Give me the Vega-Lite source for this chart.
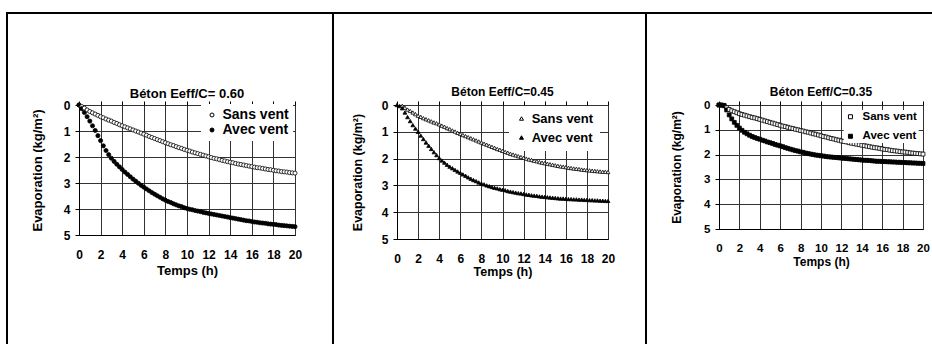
{
  "$schema": "https://vega.github.io/schema/vega-lite/v6.json",
  "background": "white",
  "padding": {"left": 5, "top": 11, "right": 0, "bottom": 0},
  "spacing": -4,
  "resolve": {"scale": {"fill": "independent", "x": "independent", "y": "independent"}, "legend": {"fill": "independent"}},
  "config": {
    "font": "Liberation Sans",
    "view": {"stroke": "#555", "strokeWidth": 1},
    "axis": {"labelFont": "Liberation Sans", "labelFontWeight": "bold", "labelColor": "black", "titleFont": "Liberation Sans", "titleFontWeight": "bold", "titleColor": "black", "tickColor": "black", "domainColor": "black", "gridColor": "#333", "gridOpacity": 1, "labelFlush": false, "labelOverlap": false},
    "title": {"font": "Liberation Sans", "fontWeight": "bold", "color": "black", "frame": "group", "anchor": "middle"},
    "legend": {"labelFont": "Liberation Sans", "labelFontWeight": "bold", "labelColor": "black", "fillColor": "white", "orient": "none", "symbolStrokeColor": "black", "symbolStrokeWidth": 1}
  },
  "datasets": {
    "d": [
      {"t":0,"s1":0,"a1":0,"s2":null,"a2":0,"s3":0,"a3":0},
      {"t":0.25,"s1":0.06,"a1":0.14,"s2":null,"a2":0.04,"s3":0.01,"a3":0},
      {"t":0.5,"s1":0.12,"a1":0.29,"s2":0.03,"a2":0.12,"s3":0.03,"a3":0.02},
      {"t":0.75,"s1":0.19,"a1":0.45,"s2":0.1,"a2":0.28,"s3":0.11,"a3":0.2},
      {"t":1,"s1":0.25,"a1":0.62,"s2":0.17,"a2":0.45,"s3":0.18,"a3":0.4},
      {"t":1.25,"s1":0.3,"a1":0.8,"s2":0.22,"a2":0.6,"s3":0.23,"a3":0.56},
      {"t":1.5,"s1":0.35,"a1":0.98,"s2":0.28,"a2":0.75,"s3":0.27,"a3":0.7},
      {"t":1.75,"s1":0.4,"a1":1.18,"s2":0.34,"a2":0.88,"s3":0.31,"a3":0.82},
      {"t":2,"s1":0.45,"a1":1.37,"s2":0.4,"a2":1.0,"s3":0.35,"a3":0.93},
      {"t":2.25,"s1":0.49,"a1":1.57,"s2":0.44,"a2":1.14,"s3":0.38,"a3":1.02},
      {"t":2.5,"s1":0.54,"a1":1.75,"s2":0.49,"a2":1.27,"s3":0.41,"a3":1.1},
      {"t":2.75,"s1":0.58,"a1":1.91,"s2":0.53,"a2":1.4,"s3":0.44,"a3":1.16},
      {"t":3,"s1":0.62,"a1":2.05,"s2":0.57,"a2":1.52,"s3":0.47,"a3":1.22},
      {"t":3.25,"s1":0.67,"a1":2.17,"s2":0.61,"a2":1.64,"s3":0.5,"a3":1.27},
      {"t":3.5,"s1":0.71,"a1":2.28,"s2":0.65,"a2":1.76,"s3":0.52,"a3":1.31},
      {"t":3.75,"s1":0.76,"a1":2.38,"s2":0.68,"a2":1.87,"s3":0.55,"a3":1.35},
      {"t":4,"s1":0.8,"a1":2.48,"s2":0.72,"a2":1.98,"s3":0.58,"a3":1.38},
      {"t":4.25,"s1":0.84,"a1":2.58,"s2":0.77,"a2":2.07,"s3":0.61,"a3":1.42},
      {"t":4.5,"s1":0.88,"a1":2.67,"s2":0.81,"a2":2.15,"s3":0.64,"a3":1.45},
      {"t":4.75,"s1":0.92,"a1":2.76,"s2":0.86,"a2":2.23,"s3":0.67,"a3":1.49},
      {"t":5,"s1":0.96,"a1":2.85,"s2":0.9,"a2":2.3,"s3":0.7,"a3":1.52},
      {"t":5.25,"s1":1.0,"a1":2.93,"s2":0.95,"a2":2.36,"s3":0.73,"a3":1.55},
      {"t":5.5,"s1":1.04,"a1":3.01,"s2":0.99,"a2":2.42,"s3":0.76,"a3":1.59},
      {"t":5.75,"s1":1.08,"a1":3.09,"s2":1.04,"a2":2.48,"s3":0.79,"a3":1.62},
      {"t":6,"s1":1.12,"a1":3.16,"s2":1.08,"a2":2.53,"s3":0.82,"a3":1.65},
      {"t":6.25,"s1":1.16,"a1":3.23,"s2":1.12,"a2":2.59,"s3":0.85,"a3":1.68},
      {"t":6.5,"s1":1.21,"a1":3.3,"s2":1.16,"a2":2.64,"s3":0.87,"a3":1.72},
      {"t":6.75,"s1":1.25,"a1":3.37,"s2":1.2,"a2":2.7,"s3":0.9,"a3":1.75},
      {"t":7,"s1":1.29,"a1":3.43,"s2":1.24,"a2":2.75,"s3":0.93,"a3":1.78},
      {"t":7.25,"s1":1.33,"a1":3.49,"s2":1.28,"a2":2.8,"s3":0.95,"a3":1.81},
      {"t":7.5,"s1":1.37,"a1":3.55,"s2":1.32,"a2":2.84,"s3":0.98,"a3":1.84},
      {"t":7.75,"s1":1.41,"a1":3.61,"s2":1.36,"a2":2.89,"s3":1.0,"a3":1.86},
      {"t":8,"s1":1.45,"a1":3.66,"s2":1.4,"a2":2.93,"s3":1.03,"a3":1.89},
      {"t":8.25,"s1":1.49,"a1":3.71,"s2":1.44,"a2":2.96,"s3":1.05,"a3":1.91},
      {"t":8.5,"s1":1.53,"a1":3.75,"s2":1.48,"a2":3.0,"s3":1.08,"a3":1.94},
      {"t":8.75,"s1":1.56,"a1":3.8,"s2":1.52,"a2":3.03,"s3":1.1,"a3":1.96},
      {"t":9,"s1":1.6,"a1":3.84,"s2":1.56,"a2":3.06,"s3":1.13,"a3":1.98},
      {"t":9.25,"s1":1.64,"a1":3.88,"s2":1.6,"a2":3.09,"s3":1.16,"a3":2.0},
      {"t":9.5,"s1":1.67,"a1":3.91,"s2":1.64,"a2":3.11,"s3":1.18,"a3":2.02},
      {"t":9.75,"s1":1.71,"a1":3.95,"s2":1.67,"a2":3.14,"s3":1.21,"a3":2.03},
      {"t":10,"s1":1.74,"a1":3.98,"s2":1.71,"a2":3.16,"s3":1.24,"a3":2.05},
      {"t":10.25,"s1":1.77,"a1":4.01,"s2":1.75,"a2":3.18,"s3":1.27,"a3":2.06},
      {"t":10.5,"s1":1.81,"a1":4.03,"s2":1.78,"a2":3.21,"s3":1.29,"a3":2.08},
      {"t":10.75,"s1":1.84,"a1":4.06,"s2":1.82,"a2":3.23,"s3":1.32,"a3":2.09},
      {"t":11,"s1":1.87,"a1":4.08,"s2":1.85,"a2":3.25,"s3":1.35,"a3":2.1},
      {"t":11.25,"s1":1.9,"a1":4.1,"s2":1.88,"a2":3.27,"s3":1.37,"a3":2.11},
      {"t":11.5,"s1":1.93,"a1":4.13,"s2":1.91,"a2":3.29,"s3":1.4,"a3":2.12},
      {"t":11.75,"s1":1.96,"a1":4.15,"s2":1.94,"a2":3.3,"s3":1.42,"a3":2.13},
      {"t":12,"s1":1.99,"a1":4.17,"s2":1.97,"a2":3.32,"s3":1.45,"a3":2.14},
      {"t":12.25,"s1":2.02,"a1":4.19,"s2":2.0,"a2":3.34,"s3":1.47,"a3":2.15},
      {"t":12.5,"s1":2.05,"a1":4.21,"s2":2.03,"a2":3.35,"s3":1.49,"a3":2.16},
      {"t":12.75,"s1":2.07,"a1":4.23,"s2":2.05,"a2":3.37,"s3":1.52,"a3":2.17},
      {"t":13,"s1":2.1,"a1":4.25,"s2":2.08,"a2":3.38,"s3":1.54,"a3":2.18},
      {"t":13.25,"s1":2.13,"a1":4.27,"s2":2.1,"a2":3.39,"s3":1.56,"a3":2.19},
      {"t":13.5,"s1":2.15,"a1":4.29,"s2":2.13,"a2":3.41,"s3":1.58,"a3":2.2},
      {"t":13.75,"s1":2.18,"a1":4.31,"s2":2.15,"a2":3.42,"s3":1.6,"a3":2.21},
      {"t":14,"s1":2.2,"a1":4.33,"s2":2.17,"a2":3.43,"s3":1.62,"a3":2.22},
      {"t":14.25,"s1":2.22,"a1":4.35,"s2":2.19,"a2":3.44,"s3":1.64,"a3":2.23},
      {"t":14.5,"s1":2.25,"a1":4.37,"s2":2.21,"a2":3.45,"s3":1.66,"a3":2.23},
      {"t":14.75,"s1":2.27,"a1":4.39,"s2":2.23,"a2":3.46,"s3":1.68,"a3":2.24},
      {"t":15,"s1":2.29,"a1":4.41,"s2":2.25,"a2":3.47,"s3":1.7,"a3":2.25},
      {"t":15.25,"s1":2.31,"a1":4.43,"s2":2.27,"a2":3.48,"s3":1.72,"a3":2.26},
      {"t":15.5,"s1":2.33,"a1":4.45,"s2":2.29,"a2":3.49,"s3":1.73,"a3":2.27},
      {"t":15.75,"s1":2.35,"a1":4.46,"s2":2.3,"a2":3.49,"s3":1.75,"a3":2.27},
      {"t":16,"s1":2.37,"a1":4.48,"s2":2.32,"a2":3.5,"s3":1.77,"a3":2.28},
      {"t":16.25,"s1":2.39,"a1":4.5,"s2":2.34,"a2":3.51,"s3":1.79,"a3":2.28},
      {"t":16.5,"s1":2.41,"a1":4.51,"s2":2.35,"a2":3.51,"s3":1.8,"a3":2.29},
      {"t":16.75,"s1":2.42,"a1":4.53,"s2":2.37,"a2":3.52,"s3":1.82,"a3":2.29},
      {"t":17,"s1":2.44,"a1":4.54,"s2":2.38,"a2":3.52,"s3":1.84,"a3":2.3},
      {"t":17.25,"s1":2.46,"a1":4.55,"s2":2.39,"a2":3.53,"s3":1.85,"a3":2.3},
      {"t":17.5,"s1":2.48,"a1":4.57,"s2":2.41,"a2":3.53,"s3":1.86,"a3":2.31},
      {"t":17.75,"s1":2.49,"a1":4.58,"s2":2.42,"a2":3.54,"s3":1.88,"a3":2.31},
      {"t":18,"s1":2.51,"a1":4.59,"s2":2.43,"a2":3.54,"s3":1.89,"a3":2.32},
      {"t":18.25,"s1":2.53,"a1":4.6,"s2":2.44,"a2":3.55,"s3":1.9,"a3":2.32},
      {"t":18.5,"s1":2.54,"a1":4.62,"s2":2.45,"a2":3.55,"s3":1.91,"a3":2.33},
      {"t":18.75,"s1":2.56,"a1":4.63,"s2":2.46,"a2":3.56,"s3":1.93,"a3":2.33},
      {"t":19,"s1":2.57,"a1":4.64,"s2":2.47,"a2":3.56,"s3":1.94,"a3":2.34},
      {"t":19.25,"s1":2.58,"a1":4.65,"s2":2.48,"a2":3.57,"s3":1.95,"a3":2.34},
      {"t":19.5,"s1":2.6,"a1":4.66,"s2":2.49,"a2":3.57,"s3":1.96,"a3":2.35},
      {"t":19.75,"s1":2.61,"a1":4.67,"s2":2.49,"a2":3.58,"s3":1.97,"a3":2.35},
      {"t":20,"s1":2.62,"a1":4.68,"s2":2.5,"a2":3.58,"s3":1.98,"a3":2.36}
    ]
  },
  "hconcat": [
    {
      "width": 216,
      "height": 130,
      "title": {"text": "Béton Eeff/C= 0.60", "fontSize": 13, "offset": -89},
      "layer": [
        {
          "data": {"values": [{}]},
          "mark": {"type": "rect", "filled": false, "stroke": "black", "strokeWidth": 2},
          "encoding": {
            "x": {"datum": -6.6667, "type": "quantitative", "scale": {"domain": [0, 20], "nice": false, "zero": false}, "axis": {"orient": "top", "values": [0,2,4,6,8,10,12,14,16,18,20], "labels": false, "ticks": true, "tickSize": 4, "domain": false, "grid": false, "title": null}},
            "x2": {"datum": 23.517},
            "y": {"datum": -3.538, "type": "quantitative", "scale": {"domain": [0, 5], "reverse": true, "nice": false, "zero": false}, "axis": {"orient": "left", "values": [0,1,2,3,4,5], "grid": true, "tickSize": 4, "labelPadding": 5, "labelFontSize": 12, "title": "Evaporation (kg/m²)", "titleFontSize": 13, "titlePadding": 19, "domain": true}},
            "y2": {"datum": 9.8}
          }
        },
        {
          "data": {"name": "d"},
          "transform": [{"fold": ["s1", "a1"], "as": ["serie", "v"]}, {"filter": "isValid(datum.v)"}],
          "mark": {"type": "point", "filled": true, "shape": "circle", "stroke": "black", "strokeWidth": 0.8, "opacity": 1, "size": 17},
          "encoding": {
            "x": {"field": "t", "type": "quantitative", "axis": {"orient": "bottom", "values": [0,2,4,6,8,10,12,14,16,18,20], "ticks": false, "labelPadding": 14, "labelFontSize": 12, "grid": true, "domain": true, "title": "Temps (h)", "titleFontSize": 13, "titlePadding": 4}},
            "y": {"field": "v", "type": "quantitative", "axis": {"orient": "left", "values": [0,1,2,3,4,5], "grid": true, "tickSize": 4, "labelPadding": 5, "labelFontSize": 12, "title": "Evaporation (kg/m²)", "titleFontSize": 13, "titlePadding": 19, "domain": true}},
            "fill": {"field": "serie", "type": "nominal", "scale": {"domain": ["s1", "a1"], "range": ["white", "black"]}, "legend": {"title": null, "labelExpr": "datum.value == 's1' ? 'Sans vent' : 'Avec vent'", "labelFontSize": 14, "symbolType": "circle", "symbolSize": 16, "padding": 4, "rowPadding": 1, "labelOffset": 3.5, "legendX": 122, "legendY": -1}}
          }
        }
      ]
    },
    {
      "width": 211,
      "height": 134,
      "title": {"text": "Béton Eeff/C=0.45", "fontSize": 12, "offset": -87},
      "layer": [
        {
          "data": {"values": [{}]},
          "mark": {"type": "rect", "filled": false, "stroke": "black", "strokeWidth": 2},
          "encoding": {
            "x": {"datum": -6.0654, "type": "quantitative", "scale": {"domain": [0, 20], "nice": false, "zero": false}, "axis": {"orient": "top", "values": [0,2,4,6,8,10,12,14,16,18,20], "labels": false, "ticks": true, "tickSize": 4, "domain": false, "grid": false, "title": null}},
            "x2": {"datum": 23.601},
            "y": {"datum": -3.4328, "type": "quantitative", "scale": {"domain": [0, 5], "reverse": true, "nice": false, "zero": false}, "axis": {"orient": "left", "values": [0,1,2,3,4,5], "grid": true, "tickSize": 4, "labelPadding": 5, "labelFontSize": 12, "title": "Evaporation (kg/m²)", "titleFontSize": 12.5, "titlePadding": 17, "domain": true}},
            "y2": {"datum": 9.51}
          }
        },
        {
          "data": {"name": "d"},
          "transform": [{"fold": ["s2", "a2"], "as": ["serie", "v"]}, {"filter": "isValid(datum.v)"}],
          "mark": {"type": "point", "filled": true, "shape": "triangle-up", "stroke": "black", "strokeWidth": 0.8, "opacity": 1, "size": 15},
          "encoding": {
            "x": {"field": "t", "type": "quantitative", "axis": {"orient": "bottom", "values": [0,2,4,6,8,10,12,14,16,18,20], "ticks": false, "labelPadding": 14, "labelFontSize": 12, "grid": true, "domain": true, "title": "Temps (h)", "titleFontSize": 12.5, "titlePadding": 1}},
            "y": {"field": "v", "type": "quantitative", "axis": {"orient": "left", "values": [0,1,2,3,4,5], "grid": true, "tickSize": 4, "labelPadding": 5, "labelFontSize": 12, "title": "Evaporation (kg/m²)", "titleFontSize": 12.5, "titlePadding": 17, "domain": true}},
            "fill": {"field": "serie", "type": "nominal", "scale": {"domain": ["s2", "a2"], "range": ["white", "black"]}, "legend": {"title": null, "labelExpr": "datum.value == 's2' ? 'Sans vent' : 'Avec vent'", "labelFontSize": 13, "symbolType": "triangle-up", "symbolSize": 16, "padding": 6, "rowPadding": 5, "labelOffset": 3.7, "legendX": 112, "legendY": 1}}
          }
        }
      ]
    },
    {
      "width": 204,
      "height": 124,
      "title": {"text": "Béton Eeff/C=0.35", "fontSize": 12, "offset": -87},
      "layer": [
        {
          "data": {"values": [{}]},
          "mark": {"type": "rect", "filled": false, "stroke": "black", "strokeWidth": 2},
          "encoding": {
            "x": {"datum": -7.156, "type": "quantitative", "scale": {"domain": [0, 20], "nice": false, "zero": false}, "axis": {"orient": "top", "values": [0,2,4,6,8,10,12,14,16,18,20], "labels": false, "ticks": true, "tickSize": 4, "domain": false, "grid": false, "title": null}},
            "x2": {"datum": 21.08},
            "y": {"datum": -3.7097, "type": "quantitative", "scale": {"domain": [0, 5], "reverse": true, "nice": false, "zero": false}, "axis": {"orient": "left", "values": [0,1,2,3,4,5], "grid": true, "tickSize": 4, "labelPadding": 5, "labelFontSize": 11.5, "title": "Evaporation (kg/m²)", "titleFontSize": 12, "titlePadding": 20, "domain": true}},
            "y2": {"datum": 10.28}
          }
        },
        {
          "data": {"name": "d"},
          "transform": [{"fold": ["s3", "a3"], "as": ["serie", "v"]}, {"filter": "isValid(datum.v)"}],
          "mark": {"type": "point", "filled": true, "shape": "square", "stroke": "black", "strokeWidth": 0.8, "opacity": 1, "size": 15},
          "encoding": {
            "x": {"field": "t", "type": "quantitative", "axis": {"orient": "bottom", "values": [0,2,4,6,8,10,12,14,16,18,20], "ticks": false, "labelPadding": 13, "labelFontSize": 11.5, "grid": true, "domain": true, "title": "Temps (h)", "titleFontSize": 12, "titlePadding": 3}},
            "y": {"field": "v", "type": "quantitative", "axis": {"orient": "left", "values": [0,1,2,3,4,5], "grid": true, "tickSize": 4, "labelPadding": 5, "labelFontSize": 11.5, "title": "Evaporation (kg/m²)", "titleFontSize": 12, "titlePadding": 20, "domain": true}},
            "fill": {"field": "serie", "type": "nominal", "scale": {"domain": ["s3", "a3"], "range": ["white", "black"]}, "legend": {"title": null, "labelExpr": "datum.value == 's3' ? 'Sans vent' : 'Avec vent'", "labelFontSize": 11.5, "symbolType": "square", "symbolSize": 16, "padding": 1, "rowPadding": 6.5, "labelOffset": 6.3, "legendX": 124.7, "legendY": 5}}
          }
        }
      ]
    }
  ]
}
